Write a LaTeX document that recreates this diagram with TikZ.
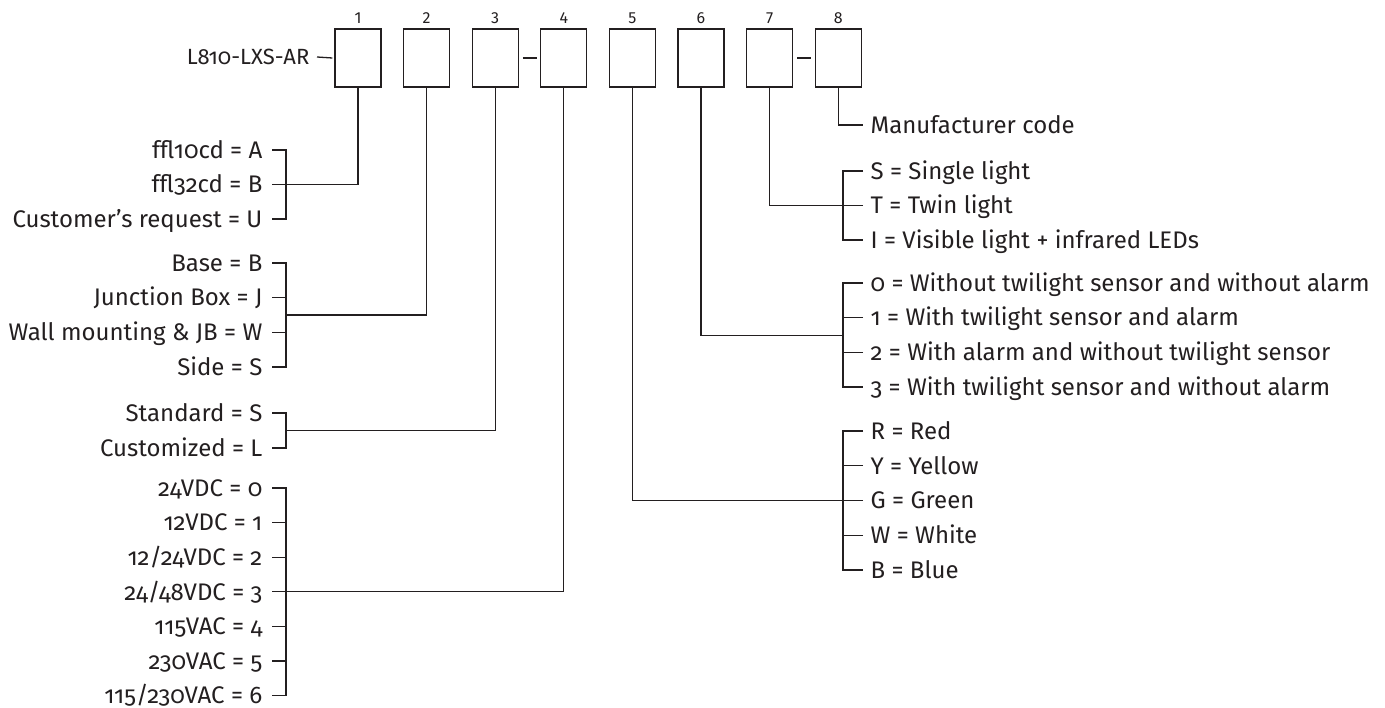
\documentclass[tikz,border=0pt]{standalone}
\usepackage{fontspec}
\setmainfont{Fira Sans}[Numbers=OldStyle]
\newfontfamily\liningfont{Fira Sans}[Numbers=Lining]
\definecolor{ink}{HTML}{231F20}
\begin{document}
\begin{tikzpicture}[x=1pt,y=-1pt,
  line width=1.3pt, draw=ink, line join=miter,
  slot/.style={draw=ink, minimum width=46pt, minimum height=58pt, inner sep=0pt},
  num/.style={font=\liningfont\fontsize{16}{18}\selectfont, text=ink, inner sep=0pt, anchor=base},
  lbl/.style={font=\fontsize{24}{28}\selectfont, text=ink, inner sep=0pt, text height=16.5pt, text depth=0pt},
  lft/.style={lbl, anchor=east},
  rgt/.style={lbl, anchor=west}]
\useasboundingbox (0,0) rectangle (1385,708);
% boxes
\foreach \i in {1,...,8}{
  \node[slot] (b\i) at ({358+68.6*(\i-1)},58) {};
  \node[num] (n\i) at ({358+68.6*(\i-1)},23.5) {\i};
}
\node[lbl, anchor=east, font=\fontsize{22}{26}\selectfont, text height=15pt] (pn) at (310,57) {L810-LXS-AR};
\draw ([xshift=7pt]pn.east) -- ([xshift=-2pt]b1.west);
\draw ([xshift=4pt]b3.east) -- ([xshift=-3pt]b4.west);
\draw ([xshift=4pt]b7.east) -- ([xshift=-4pt]b8.west);
\coordinate (kl) at (286,0);
\coordinate (kr) at (843,0);
% group 1
\node[lft] (a1) at (263,150) {ffl10cd = A};
\node[lft] (a2) at (263,184.5) {ffl32cd = B};
\node[lft] (a3) at (263,219) {Customer’s request = U};
\draw ([xshift=9pt]a1.east) -- (a1.east -| kl) -- (a3.east -| kl) -- ([xshift=9pt]a3.east);
\draw ([xshift=9pt]a2.east) -- (a2.east -| kl);
\draw (b1.south) |- (a2.east -| kl);
% group 2
\node[lft] (c1) at (263,263) {Base = B};
\node[lft] (c2) at (263,297.7) {Junction Box = J};
\node[lft] (c3) at (263,332.3) {Wall mounting \& JB = W};
\node[lft] (c4) at (263,367) {Side = S};
\coordinate (c0) at (286,315);
\draw ([xshift=9pt]c1.east) -- (c1.east -| kl) -- (c4.east -| kl) -- ([xshift=9pt]c4.east);
\draw ([xshift=9pt]c2.east) -- (c2.east -| kl);
\draw ([xshift=9pt]c3.east) -- (c3.east -| kl);
\draw (b2.south) |- (c0);
% group 3
\node[lft] (d1) at (263,413) {Standard = S};
\node[lft] (d2) at (263,448) {Customized = L};
\coordinate (d0) at (286,430.5);
\draw ([xshift=9pt]d1.east) -- (d1.east -| kl) -- (d2.east -| kl) -- ([xshift=9pt]d2.east);
\draw (b3.south) |- (d0);
% group 4
\node[lft] (e1) at (263,488) {24VDC = 0};
\node[lft] (e2) at (263,522.6) {12VDC = 1};
\node[lft] (e3) at (263,557.2) {12/24VDC = 2};
\node[lft] (e4) at (263,591.8) {24/48VDC = 3};
\node[lft] (e5) at (263,626.4) {115VAC = 4};
\node[lft] (e6) at (263,661) {230VAC = 5};
\node[lft] (e7) at (263,695.6) {115/230VAC = 6};
\draw ([xshift=9pt]e1.east) -- (e1.east -| kl) -- (e7.east -| kl) -- ([xshift=9pt]e7.east);
\foreach \n in {e2,e3,e4,e5,e6}{\draw ([xshift=9pt]\n.east) -- (\n.east -| kl);}
\draw (b4.south) |- (e4.east -| kl);
% group 8
\node[rgt] (m1) at (870,125) {Manufacturer code};
\draw (b8.south) |- ([xshift=-7pt]m1.west);
% group 7
\node[rgt] (s1) at (870,171) {S = Single light};
\node[rgt] (s2) at (870,205.5) {T = Twin light};
\node[rgt] (s3) at (870,240) {I = Visible light + infrared LEDs};
\draw ([xshift=-7pt]s1.west) -- (s1.west -| kr) -- (s3.west -| kr) -- ([xshift=-7pt]s3.west);
\draw ([xshift=-7pt]s2.west) -- (s2.west -| kr);
\draw (b7.south) |- (s2.west -| kr);
% group 6
\node[rgt] (t1) at (870,283) {0 = Without twilight sensor and without alarm};
\node[rgt] (t2) at (870,317.7) {1 = With twilight sensor and alarm};
\node[rgt] (t3) at (870,352.3) {2 = With alarm and without twilight sensor};
\node[rgt] (t4) at (870,387) {3 = With twilight sensor and without alarm};
\coordinate (t0) at (843,335.5);
\draw ([xshift=-7pt]t1.west) -- (t1.west -| kr) -- (t4.west -| kr) -- ([xshift=-7pt]t4.west);
\draw ([xshift=-7pt]t2.west) -- (t2.west -| kr);
\draw ([xshift=-7pt]t3.west) -- (t3.west -| kr);
\draw (b6.south) |- (t0);
% group 5
\node[rgt] (r1) at (870,431) {R = Red};
\node[rgt] (r2) at (870,465.8) {Y = Yellow};
\node[rgt] (r3) at (870,500.5) {G = Green};
\node[rgt] (r4) at (870,535.2) {W = White};
\node[rgt] (r5) at (870,570) {B = Blue};
\draw ([xshift=-7pt]r1.west) -- (r1.west -| kr) -- (r5.west -| kr) -- ([xshift=-7pt]r5.west);
\foreach \n in {r2,r3,r4}{\draw ([xshift=-7pt]\n.west) -- (\n.west -| kr);}
\draw (b5.south) |- (r3.west -| kr);
\end{tikzpicture}
\end{document}
